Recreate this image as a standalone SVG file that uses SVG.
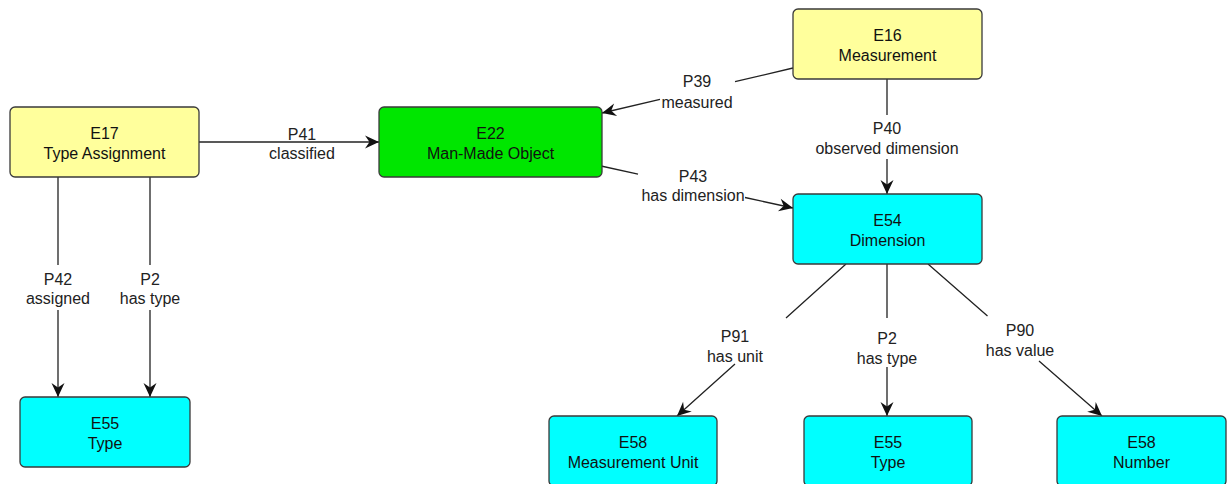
<svg xmlns="http://www.w3.org/2000/svg" width="1228" height="484" viewBox="0 0 1228 484">
<style>
.node rect{stroke:#3a3a3a;stroke-width:1.3}
.yellow{fill:#ffff9c}
.green{fill:#00e600}
.cyan{fill:#00ffff}
.nt{font-family:"Liberation Sans",Arial,sans-serif;font-size:16px;fill:#111;text-anchor:middle}
.el{font-family:"Liberation Sans",Arial,sans-serif;font-size:16px;fill:#222;text-anchor:middle}
.conn path{fill:none;stroke:#222;stroke-width:1.3;marker-end:url(#arr)}
</style>
<defs>
<marker id="arr" markerUnits="userSpaceOnUse" orient="auto" refX="0" refY="0" viewBox="-15 -7 16 14" markerWidth="16" markerHeight="14">
<path d="M0,0 L-14,-6.5 L-9.5,0 L-14,6.5 Z" fill="#111"/>
</marker>
</defs>
<rect width="1228" height="484" fill="#ffffff"/>
<g class="conn">
<path id="c-p41" d="M199,142 L379,142"/>
<path id="c-p42" d="M58,177 L58,265 M58,310 L58,397"/>
<path id="c-p2a" d="M150,177 L150,265 M150,310 L150,397"/>
<path id="c-p39" d="M793,68 L735,81.7 M660,99.3 L602,113"/>
<path id="c-p43" d="M601,166 L638,174.1 M745,197.5 L793,208"/>
<path id="c-p40" d="M887,79 L887,115 M887,159 L887,194"/>
<path id="c-p91" d="M846,264 L786,318 M735,364 L677,416"/>
<path id="c-p2b" d="M887,264 L887,318 M887,367 L887,416"/>
<path id="c-p90" d="M928,264 L987.5,316 M1039,361 L1102,416"/>
</g>
<g id="labels">
<text class="el" x="302" y="140">P41</text>
<text class="el" x="302" y="159">classified</text>
<text class="el" x="58" y="285">P42</text>
<text class="el" x="58" y="304">assigned</text>
<text class="el" x="150" y="285">P2</text>
<text class="el" x="150" y="304">has type</text>
<text class="el" x="697" y="87">P39</text>
<text class="el" x="697" y="108">measured</text>
<text class="el" x="693" y="182">P43</text>
<text class="el" x="693" y="201">has dimension</text>
<text class="el" x="887" y="134">P40</text>
<text class="el" x="887" y="154">observed dimension</text>
<text class="el" x="735" y="342">P91</text>
<text class="el" x="735" y="362">has unit</text>
<text class="el" x="887" y="344">P2</text>
<text class="el" x="887" y="364">has type</text>
<text class="el" x="1020" y="336">P90</text>
<text class="el" x="1020" y="356">has value</text>
</g>
<g id="E17" class="node"><rect class="yellow" x="10" y="107" width="189" height="70" rx="5"/><text class="nt" x="104.5" y="139">E17</text><text class="nt" x="104.5" y="159">Type Assignment</text></g>
<g id="E22" class="node"><rect class="green" x="379" y="107" width="223" height="70" rx="5"/><text class="nt" x="490.5" y="139">E22</text><text class="nt" x="490.5" y="159">Man-Made Object</text></g>
<g id="E16" class="node"><rect class="yellow" x="793" y="9" width="189" height="70" rx="5"/><text class="nt" x="887.5" y="41">E16</text><text class="nt" x="887.5" y="61">Measurement</text></g>
<g id="E54" class="node"><rect class="cyan" x="793" y="194" width="189" height="70" rx="5"/><text class="nt" x="887.5" y="226">E54</text><text class="nt" x="887.5" y="246">Dimension</text></g>
<g id="E55a" class="node"><rect class="cyan" x="20" y="397" width="170" height="70" rx="5"/><text class="nt" x="105" y="429">E55</text><text class="nt" x="105" y="449">Type</text></g>
<g id="E58a" class="node"><rect class="cyan" x="549" y="416" width="168" height="70" rx="5"/><text class="nt" x="633" y="448">E58</text><text class="nt" x="633" y="468">Measurement Unit</text></g>
<g id="E55b" class="node"><rect class="cyan" x="804" y="416" width="168" height="70" rx="5"/><text class="nt" x="888" y="448">E55</text><text class="nt" x="888" y="468">Type</text></g>
<g id="E58b" class="node"><rect class="cyan" x="1057" y="416" width="169" height="70" rx="5"/><text class="nt" x="1141.5" y="448">E58</text><text class="nt" x="1141.5" y="468">Number</text></g>
</svg>
